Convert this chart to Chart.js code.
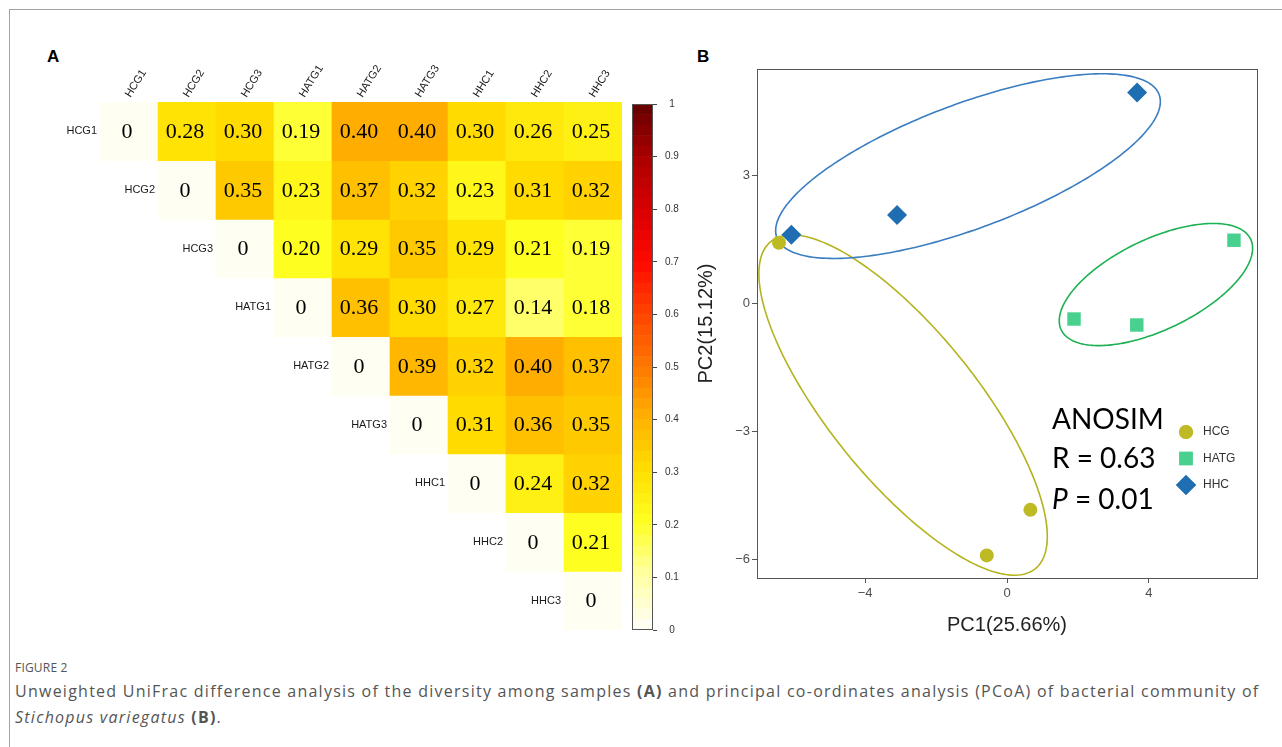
<!DOCTYPE html>
<html>
<head>
<meta charset="utf-8">
<script src="https://cdn.jsdelivr.net/npm/chart.js@4.4.1/dist/chart.umd.min.js"></script>
<style>
  html, body { margin: 0; padding: 0; background: #fff; }
  body { width: 1282px; height: 747px; position: relative; overflow: hidden; font-family: "Liberation Sans", Arial, sans-serif; }
  .frame { position: absolute; left: 9px; top: 9px; width: 1300px; height: 760px; border-top: 1px solid #a3a3a3; border-left: 1px solid #a3a3a3; }
  canvas { position: absolute; }
  #heat { left: 0; top: 0; }
  #bar { left: 620px; top: 90px; }
  #pcoa { left: 690px; top: 40px; }
  .tag { position: absolute; font: bold 17px "Liberation Sans", Arial, sans-serif; color: #000; }
  .caphead { position: absolute; left: 15px; top: 659px; font: 12px "Open Sans", sans-serif; color: #555; letter-spacing: 0.2px; }
  .cap { position: absolute; left: 15px; top: 678px; font: 16px/26px "Open Sans", sans-serif; color: #555; white-space: nowrap; letter-spacing: 1.25px; }
</style>
</head>
<body>
<div class="frame"></div>
<div class="tag" style="left:47px; top:47px;">A</div>
<div class="tag" style="left:697px; top:47px;">B</div>
<canvas id="heat" width="630" height="640"></canvas>
<canvas id="bar" width="81" height="560"></canvas>
<canvas id="pcoa" width="592" height="610"></canvas>
<div class="caphead">FIGURE 2</div>
<div class="cap">Unweighted UniFrac difference analysis of the diversity among samples <b>(A)</b> and principal co-ordinates analysis (PCoA) of bacterial community of<br><i>Stichopus variegatus</i> <b>(B)</b>.</div>

<script>
// ---- panel A data: unweighted UniFrac distances (upper triangle, from the diagonal) ----
const samples = ['HCG1', 'HCG2', 'HCG3', 'HATG1', 'HATG2', 'HATG3', 'HHC1', 'HHC2', 'HHC3'];
const distHCG1 = [0, 0.28, 0.30, 0.19, 0.40, 0.40, 0.30, 0.26, 0.25];
const distHCG2 = [0, 0.35, 0.23, 0.37, 0.32, 0.23, 0.31, 0.32];
const distHCG3 = [0, 0.20, 0.29, 0.35, 0.29, 0.21, 0.19];
const distHATG1 = [0, 0.36, 0.30, 0.27, 0.14, 0.18];
const distHATG2 = [0, 0.39, 0.32, 0.40, 0.37];
const distHATG3 = [0, 0.31, 0.36, 0.35];
const distHHC1 = [0, 0.24, 0.32];
const distHHC2 = [0, 0.21];
const distHHC3 = [0];
const distRows = [distHCG1, distHCG2, distHCG3, distHATG1, distHATG2, distHATG3, distHHC1, distHHC2, distHHC3];
const colorbarTicks = [0, 0.1, 0.2, 0.3, 0.4, 0.5, 0.6, 0.7, 0.8, 0.9, 1];

// ---- panel B data: PCoA scores ----
const groups = ['HCG', 'HATG', 'HHC'];
const hcgPC1 = [-6.43, 0.66, -0.57];
const hcgPC2 = [1.43, -4.84, -5.91];
const hatgPC1 = [6.40, 1.89, 3.66];
const hatgPC2 = [1.49, -0.36, -0.50];
const hhcPC1 = [-6.08, -3.10, 3.67];
const hhcPC2 = [1.62, 2.08, 4.96];
// ellipse: centre x, centre y, half major axis (dx, dy), half minor axis (dx, dy), in PC units
const hcgEllipse = [-2.93, -2.38, 3.73, -3.84, -1.62, -1.10];
const hatgEllipse = [4.20, 0.45, 2.67, 1.065, 0.55, -0.96];
const hhcEllipse = [-1.10, 3.23, 5.39, 1.68, 0.61, -1.37];
const pc1Ticks = [-4, 0, 4];
const pc2Ticks = [-6, -3, 0, 3];
const anosimR = '0.63';
const anosimP = '0.01';

// colour ramp of the distance scale
const rampStops = [0, 0.1, 0.2, 0.3, 0.4, 0.5, 0.6, 0.7, 0.8, 0.9, 1];
const rampColors = ['#FFFEF2', '#FFFF9E', '#FFFF22', '#FFDE00', '#FFB200', '#FF7800', '#FF4500', '#FF0A00', '#DA0000', '#AE0000', '#6A0000'];
const nBands = 50;

function hexRgb(h) {
    return [parseInt(h.substr(1, 2), 16), parseInt(h.substr(3, 2), 16), parseInt(h.substr(5, 2), 16)];
}

function ramp(t) {
    let i = 0;
    while (i < rampStops.length - 2 && t > rampStops[i + 1]) i++;
    const f = Math.max(0, Math.min(1, (t - rampStops[i]) / (rampStops[i + 1] - rampStops[i])));
    const a = hexRgb(rampColors[i]), b = hexRgb(rampColors[i + 1]);
    const c = a.map((v, k) => Math.round(v + (b[k] - v) * f));
    return `rgb(${c[0]},${c[1]},${c[2]})`;
}

function bandColor(v) {
    const k = Math.min(nBands - 1, Math.floor(v * nBands + 1e-9));
    return ramp(k / (nBands - 1));
}

const sans = '"Liberation Sans", Arial, sans-serif';

// ---------------- heatmap ----------------
const heatSets = samples.map((name, i) => ({
    label: name,
    data: samples.map((c, j) => j >= i ? [i - 0.5, i + 0.5] : null),
    backgroundColor: samples.map((c, j) => j >= i ? bandColor(distRows[i][j - i]) : 'rgba(0,0,0,0)'),
    borderWidth: 0,
    grouped: false,
    barPercentage: 1,
    categoryPercentage: 1
}));

const cellText = {
    id: 'cellText',
    afterDatasetsDraw(chart) {
        const { ctx, scales: { x, y } } = chart;
        const w = x.getPixelForValue(1) - x.getPixelForValue(0);
        ctx.save();
        ctx.textBaseline = 'middle';
        samples.forEach((name, i) => {
            ctx.font = '22px "Liberation Serif", "Times New Roman", serif';
            ctx.fillStyle = '#000';
            ctx.textAlign = 'center';
            distRows[i].forEach((v, k) => {
                const label = v === 0 ? '0' : v.toFixed(2);
                ctx.fillText(label, x.getPixelForValue(i + k) - 2, y.getPixelForValue(i) + 1);
            });
            ctx.font = '11px ' + sans;
            ctx.fillStyle = '#1a1a1a';
            ctx.textAlign = 'right';
            ctx.fillText(name, x.getPixelForValue(i) - w / 2 - 3, y.getPixelForValue(i));
        });
        ctx.restore();
    }
};

new Chart(document.getElementById('heat'), {
    type: 'bar',
    data: { labels: samples, datasets: heatSets },
    options: {
        responsive: false,
        animation: false,
        layout: { padding: { left: 100, right: 8, top: 0, bottom: 10 } },
        plugins: { legend: { display: false }, tooltip: { enabled: false } },
        scales: {
            x: {
                position: 'top',
                grid: { display: false, drawTicks: false },
                border: { display: false },
                ticks: { minRotation: 58, maxRotation: 58, padding: 2, labelOffset: 10, color: '#1a1a1a', font: { family: sans, size: 11 } },
                afterFit(s) { s.height = 102; s.paddingLeft = 0; s.paddingRight = 0; }
            },
            y: {
                display: false,
                reverse: true,
                min: -0.5,
                max: samples.length - 0.5
            }
        }
    },
    plugins: [cellText]
});

// ---------------- colour bar ----------------
const bandIndex = Array.from({ length: nBands }, (_, k) => k);
const barFrame = {
    id: 'barFrame',
    afterDraw(chart) {
        const { ctx, chartArea: a } = chart;
        ctx.save();
        ctx.strokeStyle = '#555';
        ctx.lineWidth = 1;
        ctx.strokeRect(Math.round(a.left) + 0.5, Math.round(a.top) + 0.5, Math.round(a.right - a.left) - 1, Math.round(a.bottom - a.top) - 1);
        ctx.restore();
    }
};

new Chart(document.getElementById('bar'), {
    type: 'bar',
    data: {
        labels: [''],
        datasets: bandIndex.map(k => ({
            data: [[k / nBands, (k + 1) / nBands]],
            backgroundColor: ramp(k / (nBands - 1)),
            borderWidth: 0,
            grouped: false,
            barPercentage: 1,
            categoryPercentage: 1
        }))
    },
    options: {
        responsive: false,
        animation: false,
        layout: { padding: { left: 12, right: 0, top: 13, bottom: 20 } },
        plugins: { legend: { display: false }, tooltip: { enabled: false } },
        scales: {
            x: { display: false },
            y: {
                position: 'right',
                min: 0,
                max: 1,
                afterBuildTicks(s) { s.ticks = colorbarTicks.map(v => ({ value: v })); },
                grid: { drawOnChartArea: false, drawTicks: true, tickLength: 4, color: '#444' },
                border: { display: false },
                ticks: {
                    crossAlign: 'center',
                    padding: 8,
                    color: '#333',
                    font: { family: sans, size: 10 },
                    callback: v => (v === 0 || v === 1) ? String(v) : v.toFixed(1)
                },
                afterFit(s) { s.width = 48; }
            }
        }
    },
    plugins: [barFrame]
});

// ---------------- PCoA ----------------
const groupColors = ['#BDBA24', '#48D08E', '#1F6EB2'];
const ellipseColors = ['#B4B31E', '#1DB153', '#3A7DC0'];
const groupStyles = ['circle', 'rect', 'rectRot'];
const groupRadius = [7, 9.5, 10];
const groupX = [hcgPC1, hatgPC1, hhcPC1];
const groupY = [hcgPC2, hatgPC2, hhcPC2];
const groupEllipses = [hcgEllipse, hatgEllipse, hhcEllipse];

const pcoaExtras = {
    id: 'pcoaExtras',
    beforeDatasetsDraw(chart) {
        const { ctx, scales: { x, y } } = chart;
        ctx.save();
        ctx.lineWidth = 1.6;
        groupEllipses.forEach((e, g) => {
            ctx.strokeStyle = ellipseColors[g];
            ctx.beginPath();
            for (let s = 0; s <= 240; s++) {
                const t = s / 240 * Math.PI * 2;
                const px = x.getPixelForValue(e[0] + e[2] * Math.cos(t) + e[4] * Math.sin(t));
                const py = y.getPixelForValue(e[1] + e[3] * Math.cos(t) + e[5] * Math.sin(t));
                if (s === 0) ctx.moveTo(px, py); else ctx.lineTo(px, py);
            }
            ctx.closePath();
            ctx.stroke();
        });
        ctx.restore();
    },
    afterDraw(chart) {
        const { ctx, chartArea: a } = chart;
        ctx.save();
        ctx.strokeStyle = '#555';
        ctx.lineWidth = 1;
        ctx.strokeRect(Math.round(a.left) + 0.5, Math.round(a.top) + 0.5, Math.round(a.right - a.left), Math.round(a.bottom - a.top));

        // ANOSIM annotation
        const tx = a.left + 295;
        ctx.fillStyle = '#000';
        ctx.textBaseline = 'alphabetic';
        ctx.textAlign = 'left';
        ctx.font = '28px Lato, "Open Sans", sans-serif';
        ctx.fillText('ANOSIM', tx, a.top + 360);
        ctx.fillText('R = ' + anosimR, tx, a.top + 399);
        ctx.font = 'italic 28px Lato, "Open Sans", sans-serif';
        ctx.fillText('P', tx, a.top + 440);
        const pw = ctx.measureText('P').width;
        ctx.font = '28px Lato, "Open Sans", sans-serif';
        ctx.fillText(' = ' + anosimP, tx + pw, a.top + 440);

        // legend
        const lx = a.left + 429, ly = a.top + 363;
        groups.forEach((name, g) => {
            const cy = ly + g * 26.5;
            ctx.fillStyle = groupColors[g];
            Chart.helpers.drawPoint(ctx, { pointStyle: groupStyles[g], radius: groupRadius[g], borderWidth: 0, rotation: 0 }, lx, cy);
            ctx.fill();
            ctx.fillStyle = '#333';
            ctx.font = '12px ' + sans;
            ctx.textBaseline = 'middle';
            ctx.fillText(name, lx + 17, cy);
        });
        ctx.restore();
    }
};

new Chart(document.getElementById('pcoa'), {
    type: 'scatter',
    data: {
        datasets: groups.map((name, g) => ({
            label: name,
            data: groupX[g].map((v, i) => ({ x: v, y: groupY[g][i] })),
            pointStyle: groupStyles[g],
            pointRadius: groupRadius[g],
            backgroundColor: groupColors[g],
            borderWidth: 0
        }))
    },
    options: {
        responsive: false,
        animation: false,
        layout: { padding: { left: 0, right: 25, top: 29, bottom: 9 } },
        plugins: { legend: { display: false }, tooltip: { enabled: false } },
        scales: {
            x: {
                min: -7.05,
                max: 7.05,
                afterBuildTicks(s) { s.ticks = pc1Ticks.map(v => ({ value: v })); },
                grid: { drawOnChartArea: false, drawTicks: true, tickLength: 5, color: '#555' },
                border: { display: false },
                ticks: { padding: 3, color: '#4d4d4d', font: { family: sans, size: 13 }, callback: v => String(v).replace('-', '\u2212') },
                title: { display: true, text: 'PC1(25.66%)', color: '#222', font: { family: sans, size: 20 } },
                afterFit(s) { s.height = 63; }
            },
            y: {
                min: -6.44,
                max: 5.51,
                afterBuildTicks(s) { s.ticks = pc2Ticks.map(v => ({ value: v })); },
                grid: { drawOnChartArea: false, drawTicks: true, tickLength: 5, color: '#555' },
                border: { display: false },
                ticks: { padding: 2, color: '#4d4d4d', font: { family: sans, size: 13 }, callback: v => String(v).replace('-', '\u2212') },
                title: { display: true, text: 'PC2(15.12%)', color: '#222', font: { family: sans, size: 20 } },
                afterFit(s) { s.width = 67; }
            }
        }
    },
    plugins: [pcoaExtras]
});
</script>
</body>
</html>
